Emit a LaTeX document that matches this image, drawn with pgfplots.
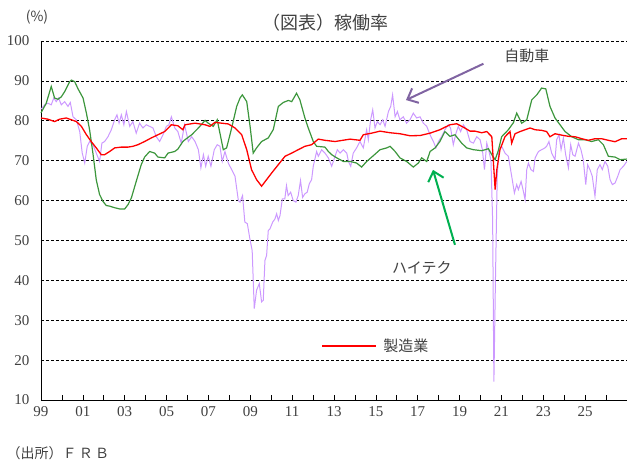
\documentclass[border=0pt]{standalone}
\usepackage{fontspec}
\setmainfont{Liberation Serif}
\newfontfamily\jp{Noto Sans CJK JP}
\usepackage{pgfplots}
\pgfplotsset{compat=1.18}
\usetikzlibrary{arrows.meta}
\definecolor{mfg}{RGB}{255,0,0}
\definecolor{hitech}{RGB}{60,150,60}
\definecolor{auto}{RGB}{204,153,255}
\definecolor{autoarrow}{RGB}{128,100,162}
\definecolor{greenarrow}{RGB}{0,176,80}
\definecolor{txt}{RGB}{64,64,64}
\begin{document}
\begin{tikzpicture}
\path[use as bounding box] (0,0) rectangle (633pt,463pt);
% title and outer texts
\node[font=\jp\fontsize{18}{18}\selectfont, text=txt] at (325pt,440pt) {（図表）稼働率};
\node[font=\jp\fontsize{14}{14}\selectfont, text=txt] at (37pt,446pt) {(\%)};
\node[font=\jp\fontsize{14}{14}\selectfont, text=txt, anchor=west] at (3pt,10pt) {（出所）Ｆ\,Ｒ\,Ｂ};
\begin{axis}[
  at={(41pt,63pt)}, anchor=south west,
  scale only axis, width=586pt, height=359pt,
  xmin=1999, xmax=2027, ymin=10, ymax=100,
  axis x line*=bottom, axis y line*=left,
  axis line style={-, black, line width=0.8pt},
  xtick={1999,2001,...,2025},
  xticklabels={99,01,03,05,07,09,11,13,15,17,19,21,23,25},
  minor xtick={2000,2002,...,2026},
  tick align=inside,
  major tick length=5pt, minor tick length=5pt,
  xtick style={black, line width=0.6pt},
  minor tick style={black, line width=0.6pt},
  ytick={10,20,...,100},
  ytick style={draw=none},
  ymajorgrids,
  grid style={black, line width=0.6pt, dash pattern=on 3pt off 2pt},
  /pgf/number format/assume math mode=true,
  tick label style={font=\fontsize{15}{15}\selectfont, text=txt},
  yticklabel style={xshift=-8pt},
  xticklabel style={yshift=-3pt},
  clip=false,
]
% 自動車 (auto)
\addplot[color=auto, line width=1pt] coordinates {
(1999.00,82.9)(1999.18,84)(1999.33,84.4)(1999.49,84)(1999.61,85.7)(1999.73,84.8)(1999.84,85.7)(1999.97,84)
(2000.13,84.8)(2000.29,83.6)(2000.40,84.6)(2000.53,81)(2000.69,80.25)(2000.85,77.3)(2000.97,71.9)(2001.09,69.4)
(2001.21,73.6)(2001.32,74.8)(2001.48,74)(2001.64,71.9)(2001.80,69.8)(2001.91,74.4)(2002.04,74.8)(2002.20,76)
(2002.36,77.75)(2002.52,80.25)(2002.63,81.5)(2002.73,79.4)(2002.84,81.5)(2002.96,79)(2003.08,82.3)(2003.24,78.6)
(2003.39,79.8)(2003.55,76.9)(2003.71,79.4)(2003.87,78.2)(2004.03,79)(2004.19,78.6)(2004.35,78.2)(2004.51,76)
(2004.67,74.8)(2004.83,76.5)(2004.99,78.6)(2005.11,79)(2005.23,81)(2005.39,78.2)(2005.54,77.3)(2005.70,74.4)
(2005.86,79)(2006.04,74.8)(2006.20,76)(2006.36,74.8)(2006.52,72.75)(2006.64,68.2)(2006.76,71.5)(2006.87,68.6)
(2006.99,71.1)(2007.12,68.6)(2007.28,72.75)(2007.42,74)(2007.55,73.6)(2007.66,69.8)(2007.79,72.3)(2007.95,69.4)
(2008.11,67.75)(2008.27,66.1)(2008.43,60)(2008.51,59.6)(2008.63,61.25)(2008.74,54.6)(2008.86,54.2)(2008.98,50.4)
(2009.09,47.5)(2009.19,32.9)(2009.30,37.5)(2009.43,39.2)(2009.54,34.6)(2009.62,35)(2009.70,45)(2009.78,46.25)
(2009.86,52.5)(2009.94,52.9)(2010.07,54.6)(2010.18,55.4)(2010.26,56.7)(2010.34,55)(2010.42,56.25)(2010.53,60.4)
(2010.65,60.4)(2010.73,63.75)(2010.81,61.25)(2010.93,62.1)(2011.05,60)(2011.18,59.6)(2011.29,61.25)(2011.40,65)
(2011.50,60.8)(2011.61,61.7)(2011.72,62.1)(2011.82,64.2)(2011.93,65.25)(2012.01,68.6)(2012.17,72.3)(2012.25,71.1)
(2012.41,72.75)(2012.57,71.9)(2012.73,70.7)(2012.89,68.6)(2013.05,71.1)(2013.16,72.75)(2013.29,71.9)(2013.45,72.75)
(2013.61,71.9)(2013.69,69.8)(2013.80,68.6)(2013.92,71.9)(2014.08,73.2)(2014.24,74.8)(2014.40,73.2)(2014.56,77.75)
(2014.64,75.25)(2014.75,80.25)(2014.85,82.75)(2014.96,78.2)(2015.07,79.8)(2015.20,79)(2015.33,80.25)(2015.44,78.6)
(2015.60,82.3)(2015.71,83.6)(2015.80,86.5)(2015.92,81)(2016.03,82.3)(2016.15,80.25)(2016.31,81)(2016.47,79.4)
(2016.63,80.25)(2016.79,81.9)(2016.95,80.7)(2017.11,81)(2017.27,79.4)(2017.43,78.6)(2017.59,76.5)(2017.75,74.8)
(2017.87,73.2)(2017.99,74.8)(2018.14,76)(2018.30,77.75)(2018.46,79)(2018.57,78.2)(2018.70,74)(2018.83,76.9)
(2018.94,78.6)(2019.05,77.3)(2019.18,79)(2019.34,77.75)(2019.50,74.8)(2019.66,74.4)(2019.82,76)(2019.98,75.25)
(2020.09,72.75)(2020.19,67.75)(2020.30,74.4)(2020.41,72.3)(2020.50,70)(2020.58,55)(2020.64,14.6)(2020.72,42)
(2020.80,66)(2020.88,72.75)(2021.01,73.6)(2021.17,71.9)(2021.33,71.1)(2021.49,66.1)(2021.62,61.9)(2021.73,64)
(2021.81,62.75)(2021.94,64.8)(2022.05,62.3)(2022.13,60.25)(2022.21,67.75)(2022.29,69.4)(2022.41,67.75)(2022.53,67.3)
(2022.61,70.7)(2022.77,72.3)(2022.92,72.75)(2023.08,73.2)(2023.16,73.6)(2023.27,74.8)(2023.40,71.9)(2023.56,70.25)
(2023.64,75.25)(2023.75,76.5)(2023.85,72.75)(2023.96,75.7)(2024.07,71.5)(2024.20,68.2)(2024.31,74)(2024.41,71.5)
(2024.52,71.1)(2024.68,74.4)(2024.80,72.75)(2024.91,70.25)(2025.03,64)(2025.12,69)(2025.23,67.75)(2025.34,66.1)
(2025.47,61.1)(2025.58,67.75)(2025.71,69)(2025.82,67.75)(2025.95,69.8)(2026.08,68.6)(2026.19,65.25)(2026.30,64)
(2026.43,64.4)(2026.56,66.1)(2026.67,67.75)(2026.83,68.6)(2026.99,69.8)
};
% ハイテク (high tech)
\addplot[color=hitech, line width=1.2pt] coordinates {
(1999.00,82)(1999.25,84.4)(1999.49,88.6)(1999.65,85.7)(1999.81,85.4)(1999.97,86)(2000.13,87.3)(2000.37,89.8)
(2000.45,90.2)(2000.61,89.8)(2000.77,88)(2001.01,85.7)(2001.17,81.9)(2001.32,77.8)(2001.48,71.9)(2001.64,65.2)
(2001.80,61.5)(2001.96,59.8)(2002.12,58.75)(2002.28,58.6)(2002.52,58.2)(2002.76,57.9)(2003.00,57.9)(2003.16,59)
(2003.32,60.7)(2003.55,64.8)(2003.79,69)(2003.95,70.9)(2004.19,72.3)(2004.43,71.9)(2004.59,70.9)(2004.91,70.7)
(2005.07,71.9)(2005.39,72.3)(2005.54,72.9)(2005.78,74.8)(2005.88,75.25)(2006.20,76.5)(2006.52,78.2)(2006.84,80.1)
(2006.99,79.4)(2007.23,78.6)(2007.42,80.25)(2007.55,76.9)(2007.71,72.75)(2007.87,73.2)(2008.11,78.2)(2008.35,83.6)
(2008.51,85.7)(2008.62,86.5)(2008.83,84.8)(2008.99,78.6)(2009.14,71.9)(2009.30,73.2)(2009.54,74.8)(2009.86,75.7)
(2010.10,77.8)(2010.34,83.6)(2010.58,84.6)(2010.82,85.1)(2010.98,84.8)(2011.21,86.9)(2011.37,85.25)(2011.61,80.7)
(2011.77,78.2)(2012.01,74.8)(2012.17,73.6)(2012.57,73.4)(2012.73,72.3)(2012.89,71.5)(2013.13,70.7)(2013.45,69.8)
(2013.77,69.8)(2014.08,69.4)(2014.32,68.4)(2014.56,69.8)(2014.88,71.25)(2015.20,72.75)(2015.52,73.2)(2015.68,73.6)
(2015.92,72.3)(2016.15,70.7)(2016.47,69.8)(2016.79,68.4)(2017.03,69.4)(2017.19,70.7)(2017.43,69.8)(2017.59,72.3)
(2017.83,73.2)(2018.06,74.8)(2018.30,77.3)(2018.54,76.1)(2018.78,76.5)(2019.10,74.4)(2019.34,73.2)(2019.66,72.75)
(2020.06,72.5)(2020.38,73)(2020.54,71.5)(2020.70,70.25)(2020.85,72.5)(2021.01,76)(2021.33,77.75)(2021.57,79.5)
(2021.73,81.9)(2021.97,79.4)(2022.21,80.25)(2022.45,85.25)(2022.69,86.5)(2022.92,88.2)(2023.12,88)(2023.32,83.6)
(2023.56,80.7)(2023.80,79)(2024.04,77.3)(2024.36,76)(2024.68,75.25)(2025.00,75.25)(2025.31,74.8)(2025.63,75.25)
(2025.87,74)(2026.11,71.1)(2026.43,70.9)(2026.67,70.25)(2026.99,70.4)
};
% 製造業 (manufacturing)
\addplot[color=mfg, line width=1.3pt] coordinates {
(1999.00,80.7)(1999.33,80.4)(1999.65,79.8)(1999.89,80.4)(2000.21,80.7)(2000.45,80.25)(2000.69,79.8)(2000.93,78.6)
(2001.17,76.5)(2001.40,74.8)(2001.64,73.2)(2001.88,71.5)(2002.04,71.5)(2002.28,72.3)(2002.52,73.2)(2002.84,73.4)
(2003.16,73.4)(2003.39,73.6)(2003.63,74)(2003.95,74.8)(2004.27,75.7)(2004.59,76.5)(2004.91,77.3)(2005.23,79)
(2005.54,78.75)(2005.78,77.75)(2005.88,79)(2006.36,79.4)(2006.84,79)(2007.07,78.6)(2007.31,79.6)(2007.63,79.4)
(2007.95,79.2)(2008.27,78.2)(2008.59,76.5)(2008.83,72.75)(2009.06,67.75)(2009.30,65.25)(2009.54,63.6)(2009.78,65.25)
(2010.02,66.9)(2010.34,69)(2010.66,71.1)(2010.98,71.9)(2011.29,72.75)(2011.61,73.6)(2011.93,74)(2012.25,75.4)
(2012.57,75.1)(2013.05,74.8)(2013.77,75.4)(2014.24,75.1)(2014.40,76.5)(2014.80,76.9)(2015.20,77.4)(2015.68,77)
(2016.15,76.75)(2016.63,76.25)(2017.11,76.3)(2017.59,76.9)(2018.06,77.75)(2018.54,79)(2018.86,79.25)(2019.18,78.4)
(2019.50,77.4)(2019.74,77.4)(2020.06,77)(2020.30,77.3)(2020.54,76)(2020.62,69.4)(2020.70,62.75)(2020.78,67.75)
(2020.93,72.75)(2021.17,76)(2021.41,77.3)(2021.49,74.4)(2021.65,76.75)(2021.89,77.3)(2022.13,77.75)(2022.37,78.2)
(2022.61,77.75)(2022.92,77.6)(2023.16,77.3)(2023.32,76)(2023.56,76.75)(2023.88,76.4)(2024.20,76.1)(2024.52,76)
(2024.84,75.5)(2025.15,75.1)(2025.47,75.5)(2025.79,75.5)(2026.11,75.1)(2026.43,74.75)(2026.75,75.5)(2026.99,75.5)
};
% legend-style label line for 製造業
\addplot[color=mfg, line width=2pt, forget plot] coordinates {(2012.43,23.6)(2015.0,23.6)};
% annotations
\node[font=\jp\fontsize{15}{15}\selectfont, text=txt] at (axis cs:2022.22,96.2) {自動車};
\draw[draw=autoarrow, line width=2pt, -{Straight Barb[length=9pt,width=16pt]}] (axis cs:2020.14,94.3) -- (axis cs:2016.44,85.2);
\node[font=\jp\fontsize{15}{15}\selectfont, text=txt] at (axis cs:2017.2,43.2) {ハイテク};
\draw[draw=greenarrow, line width=2pt, -{Straight Barb[length=9pt,width=16pt]}] (axis cs:2018.78,48.9) -- (axis cs:2017.73,67.7);
\node[font=\jp\fontsize{15}{15}\selectfont, text=txt] at (axis cs:2016.44,23.6) {製造業};
\end{axis}
\end{tikzpicture}
\end{document}
